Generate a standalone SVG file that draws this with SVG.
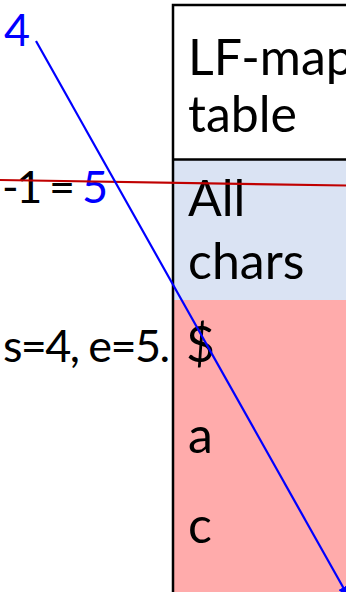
<svg xmlns="http://www.w3.org/2000/svg" width="346" height="592" viewBox="0 0 346 592">
  <defs>
    <style>
      .t { font-family: Lato, "Open Sans", sans-serif; fill: #000; }
      .big { font-size: 50px; }
      .lbl { font-size: 45px; }
      .blue { fill: #0000FF; }
    </style>
    <marker id="ah" viewBox="0 0 10 10" refX="9" refY="5" markerWidth="5" markerHeight="5" orient="auto" markerUnits="strokeWidth">
      <path d="M0,0 L10,5 L0,10 z" fill="#0000FF"/>
    </marker>
  </defs>
  <rect width="346" height="592" fill="#FFFFFF"/>

  <g id="lf-table">
    <rect x="173" y="5" width="180" height="155" fill="#FFFFFF"/>
    <rect x="173" y="160" width="180" height="140" fill="#DAE3F3"/>
    <rect x="173" y="300" width="180" height="300" fill="#FFABAB"/>
    <path d="M173,600 V5 H353 M173,159.5 H353" fill="none" stroke="#000" stroke-width="2.5"/>
    <text class="t big" x="188" y="75">LF-map</text>
    <text class="t big" x="188" y="132">table</text>
  </g>

  <g id="all-chars">
    <text class="t big" x="188" y="216">All</text>
    <text class="t big" x="188" y="279">chars</text>
  </g>

  <g id="rows">
    <text class="t big" x="186" y="362">$</text>
    <text class="t big" x="188" y="453">a</text>
    <text class="t big" x="188" y="543">c</text>
  </g>

  <g id="labels">
    <text class="t lbl blue" x="4" y="46">4</text>
    <text class="t lbl" x="2" y="203" textLength="106" lengthAdjust="spacing">-1 = <tspan class="blue">5</tspan></text>
    <text class="t lbl" x="3" y="362" textLength="167" lengthAdjust="spacing">s=4, e=5.</text>
  </g>

  <g id="connectors">
    <line x1="0" y1="180" x2="346" y2="185.5" stroke="#C00000" stroke-width="2.2"/>
    <line x1="36" y1="41" x2="348" y2="596" stroke="#0000FF" stroke-width="2.2" marker-end="url(#ah)"/>
  </g>
</svg>
